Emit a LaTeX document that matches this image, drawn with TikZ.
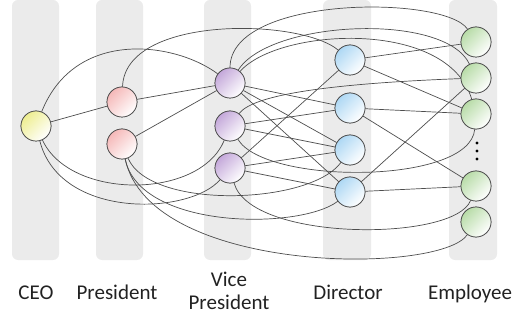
\documentclass[tikz,border=0pt]{standalone}
\usepackage{fontspec}
\setmainfont{Carlito}
\definecolor{colgray}{HTML}{EBEBEB}
\definecolor{edgegray}{HTML}{4D4D4D}
\definecolor{ceoc}{HTML}{EEEE90}
\definecolor{presc}{HTML}{F5B8B8}
\definecolor{vpc}{HTML}{C4A8DA}
\definecolor{dirc}{HTML}{AED8F4}
\definecolor{empc}{HTML}{B8DCA8}
\definecolor{txt}{HTML}{222222}
\begin{document}
\begin{tikzpicture}[x=1pt,y=-1pt,
  col/.style={fill=colgray, draw=none, rounded corners=6pt},
  nd/.style={circle, draw=edgegray, line width=0.7pt, minimum size=30pt, inner sep=0pt},
  ceon/.style={nd, top color=ceoc, bottom color=white, shading angle=45},
  presn/.style={nd, top color=presc, bottom color=white, shading angle=45},
  vpn/.style={nd, top color=vpc, bottom color=white, shading angle=45},
  dirn/.style={nd, top color=dirc, bottom color=white, shading angle=45},
  empn/.style={nd, top color=empc, bottom color=white, shading angle=45},
  ed/.style={draw=edgegray, line width=0.7pt},
  lbl/.style={font=\fontsize{21}{23}\selectfont, text=txt, inner sep=0pt, align=center}
]
\useasboundingbox (0,0) rectangle (521,320);
% columns
\fill[col] (12,0) rectangle (59,260);
\fill[col] (96,0) rectangle (143,260);
\fill[col] (204,0) rectangle (251,260);
\fill[col] (323,0) rectangle (371,260);
\fill[col] (449,0) rectangle (497,260);

% nodes
\node[ceon] (ceo) at (36,126) {};
\node[presn] (p1) at (122,102) {};
\node[presn] (p2) at (122,144) {};
\node[vpn] (vp1) at (230,83) {};
\node[vpn] (vp2) at (230,126) {};
\node[vpn] (vp3) at (230,168) {};
\node[dirn] (d1) at (350,60) {};
\node[dirn] (d2) at (350,108) {};
\node[dirn] (d3) at (350,150) {};
\node[dirn] (d4) at (350,192) {};
\node[empn] (e1) at (476,42) {};
\node[empn] (e2) at (476,78) {};
\node[empn] (e3) at (476,114) {};
\node[empn] (e4) at (476,186) {};
\node[empn] (e5) at (476,222) {};

% straight connectors
\draw[ed] (ceo) -- (p1);
\draw[ed] (p1) -- (vp1);
\draw[ed] (p2) -- (vp1);
\draw[ed] (vp1) -- (d2);
\draw[ed] (vp1) -- (d3);
\draw[ed] (vp1) -- (d4);
\draw[ed] (vp2) -- (d2);
\draw[ed] (vp2) -- (d3);
\draw[ed] (vp3) -- (d1);
\draw[ed] (vp3) -- (d3);
\draw[ed] (vp3) -- (d4);
\draw[ed] (d1) -- (e1);
\draw[ed] (d1) -- (e3);
\draw[ed] (d2) -- (e3);
\draw[ed] (d2) -- (e4);
\draw[ed] (d4) -- (e2);
\draw[ed] (d4) -- (e4);

% curved connectors over the top
\draw[ed] (ceo) .. controls (75,28) and (175,42) .. (vp1);
\draw[ed] (p1) .. controls (125,15) and (300,18) .. (d1);
\draw[ed] (vp1) .. controls (230,-5) and (445,-5) .. (e1);
\draw[ed] (vp1) .. controls (270,20) and (445,12) .. (e2);
\draw[ed] (vp1) .. controls (278,28) and (448,18) .. (e3);
\draw[ed] (vp2) .. controls (252,96) and (320,84) .. (e2);

% curved connectors below
\draw[ed] (vp2) .. controls (265,185) and (470,185) .. (e3);
\draw[ed] (vp3) .. controls (250,242) and (455,242) .. (e4);
\draw[ed] (p2) .. controls (150,275) and (440,275) .. (e5);
\draw[ed] (p2) .. controls (140,230) and (300,230) .. (d4);
\draw[ed] (p2) .. controls (150,210) and (310,205) .. (d3);
\draw[ed] (ceo) .. controls (70,200) and (200,200) .. (vp2);
\draw[ed] (ceo) .. controls (60,220) and (190,215) .. (vp3);

% redraw nodes on top
\node[ceon] at (ceo) {};
\node[presn] at (p1) {};
\node[presn] at (p2) {};
\node[vpn] at (vp1) {};
\node[vpn] at (vp2) {};
\node[vpn] at (vp3) {};
\node[dirn] at (d1) {};
\node[dirn] at (d2) {};
\node[dirn] at (d3) {};
\node[dirn] at (d4) {};
\node[empn] at (e1) {};
\node[empn] at (e2) {};
\node[empn] at (e3) {};
\node[empn] at (e4) {};
\node[empn] at (e5) {};

% ellipsis dots
\fill[black] (477,143) circle (1.7);
\fill[black] (477,151) circle (1.7);
\fill[black] (477,159) circle (1.7);

% labels
\node[lbl, anchor=base] (lceo) at (36,299) {CEO};
\node[lbl, anchor=base] (lpres) at (117,299) {President};
\node[lbl] (lvp) at (229,291) {Vice\\President};
\node[lbl, anchor=base] (ldir) at (348,299) {Director};
\node[lbl, anchor=base] (lemp) at (470,299) {Employee};
\end{tikzpicture}
\end{document}
